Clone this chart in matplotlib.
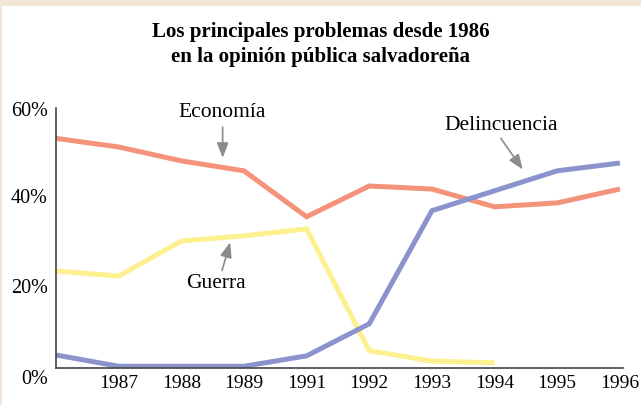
import matplotlib
matplotlib.use("Agg")
import matplotlib.pyplot as plt
from matplotlib.patches import Rectangle
from matplotlib.transforms import ScaledTranslation

# years shown on the axis (1990 is skipped in the source)
years = ["1986", "1987", "1988", "1989", "1991", "1992", "1993", "1994", "1995", "1996"]
economia = [53.0, 51.0, 47.8, 45.5, 34.9, 42.0, 41.3, 37.2, 38.1, 41.3]
guerra = [22.4, 21.2, 29.3, 30.5, 32.1, 4.0, 1.6, 1.2]
delincuencia = [3.0, 0.4, 0.4, 0.4, 2.8, 10.2, 36.3, 40.9, 45.5, 47.3]
y_ticks = [0, 20, 40, 60]

ORANGE = "#f4937a"
YELLOW = "#fdf18f"
BLUE = "#8a93cc"
ARROW = "#8c8c8c"
SERIF = "Liberation Serif"

plt.rcParams["font.family"] = SERIF

fig = plt.figure(figsize=(6.41, 4.06), dpi=100)
fig.patch.set_facecolor("white")

# beige frame strips (top and left edge)
fig.patches.append(Rectangle((0, 1 - 7 / 406), 1, 7 / 406, transform=fig.transFigure,
                             facecolor="#f3e6d9", edgecolor="none"))
fig.patches.append(Rectangle((0, 0), 2 / 641, 1, transform=fig.transFigure,
                             facecolor="#f3e6d9", edgecolor="none"))

ax = fig.add_axes([56 / 641, 37 / 406, 567 / 641, 260 / 406])

x_all = list(range(len(years)))
ax.plot(x_all, economia, color=ORANGE, lw=3.6, solid_joinstyle="miter", solid_capstyle="butt")
ax.plot(x_all[:len(guerra)], guerra, color=YELLOW, lw=3.6, solid_joinstyle="miter", solid_capstyle="butt")
ax.plot(x_all, delincuencia, color=BLUE, lw=3.6, solid_joinstyle="miter", solid_capstyle="butt")

ax.set_xlim(0, 9.05)
ax.set_ylim(0, 60)
for s in ["top", "right"]:
    ax.spines[s].set_visible(False)
for s in ["left", "bottom"]:
    ax.spines[s].set_color("#444444")
    ax.spines[s].set_linewidth(1.2)

ax.set_xticks(x_all[1:])
ax.set_xticklabels(years[1:], fontsize=14)
ax.set_yticks(y_ticks)
ax.set_yticklabels([f"{v}%" for v in y_ticks], fontsize=14.5)
ax.tick_params(axis="y", length=0, pad=6)
ax.tick_params(axis="x", length=0, pad=4)

# lower tick labels sit a little below their gridline in the source
ylabels = ax.get_yticklabels()
for lbl, dy in zip(ylabels, [-0.08, -0.04, 0, 0]):
    lbl.set_transform(lbl.get_transform() + ScaledTranslation(0, dy, fig.dpi_scale_trans))

arrow = dict(arrowstyle="-|>,head_length=0.9,head_width=0.35", color=ARROW, lw=1.2, shrinkA=0, shrinkB=0)
ax.text(2.65, 59.3, "Economía", ha="center", va="center", fontsize=15.5)
ax.annotate("", xy=(2.66, 48.5), xytext=(2.66, 55.6), arrowprops=arrow)
ax.text(2.55, 19.8, "Guerra", ha="center", va="center", fontsize=15.5)
ax.annotate("", xy=(2.78, 29.0), xytext=(2.65, 22.5), arrowprops=arrow)
ax.text(7.1, 56.3, "Delincuencia", ha="center", va="center", fontsize=15.5)
ax.annotate("", xy=(7.45, 45.8), xytext=(7.1, 53.0), arrowprops=arrow)

fig.text(0.5, 1 - 32 / 406, "Los principales problemas desde 1986", ha="center", va="center",
         fontsize=15, fontweight="bold")
fig.text(0.5, 1 - 57 / 406, "en la opinión pública salvadoreña", ha="center", va="center",
         fontsize=15, fontweight="bold")

fig.savefig("out.png", dpi=100)
